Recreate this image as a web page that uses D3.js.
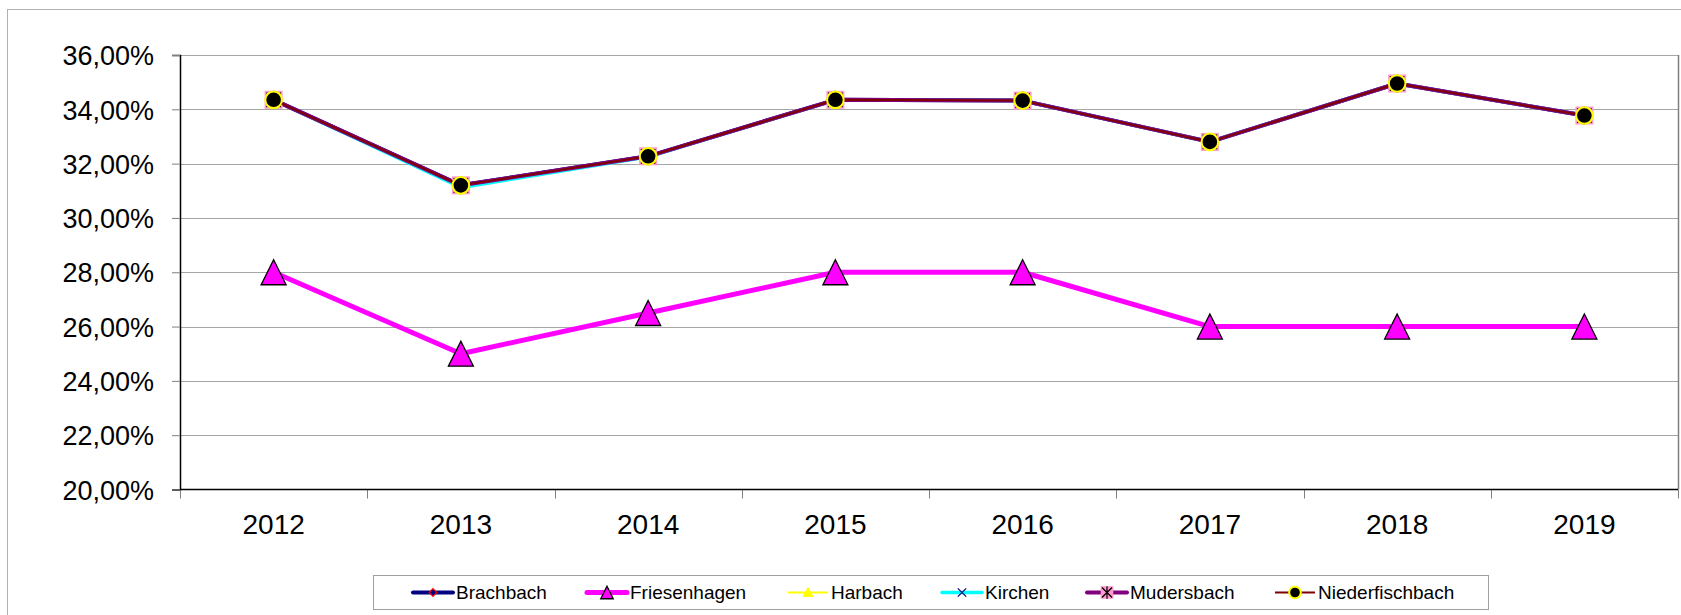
<!DOCTYPE html>
<html>
<head>
<meta charset="utf-8">
<script src="https://cdn.jsdelivr.net/npm/d3@7"></script>
<style>
  html, body { margin: 0; padding: 0; background: #fff; }
  svg { display: block; font-family: "Liberation Sans", Arial, sans-serif; }
  .grid line { stroke: #a6a6a6; shape-rendering: crispEdges; }
  .axis text { fill: #000; font-size: 27px; }
  .axis.xa text { font-size: 28px; }
  .legend text { font-size: 19px; fill: #000; }
</style>
</head>
<body>
<div id="chart"></div>
<script>
// Jahre und Werte (Prozent)
const years = ['2012', '2013', '2014', '2015', '2016', '2017', '2018', '2019'];
const brachbach       = [34.35, 31.20, 32.27, 34.35, 34.32, 32.80, 34.95, 33.77];
const friesenhagen    = [28.00, 25.00, 26.50, 28.00, 28.00, 26.00, 26.00, 26.00];
const harbach         = [34.35, 31.20, 32.27, 34.35, 34.32, 32.80, 34.95, 33.77];
const kirchen         = [34.35, 31.12, 32.25, 34.35, 34.32, 32.80, 34.95, 33.77];
const mudersbach      = [34.35, 31.20, 32.27, 34.35, 34.32, 32.80, 34.95, 33.77];
const niederfischbach = [34.35, 31.20, 32.27, 34.35, 34.32, 32.80, 34.95, 33.77];
const yTicks = [20, 22, 24, 26, 28, 30, 32, 34, 36];

const SERIES = [
  { name: 'Brachbach',       values: brachbach,       color: '#000080', width: 4, marker: 'diamond' },
  { name: 'Friesenhagen',    values: friesenhagen,    color: '#ff00ff', width: 5, marker: 'bigtri' },
  { name: 'Harbach',         values: harbach,         color: '#ffff00', width: 2, marker: 'tri' },
  { name: 'Kirchen',         values: kirchen,         color: '#00ffff', width: 3.5, marker: 'x' },
  { name: 'Mudersbach',      values: mudersbach,      color: '#800080', width: 4, marker: 'star' },
  { name: 'Niederfischbach', values: niederfischbach, color: '#800000', width: 2, marker: 'circle' },
];
// Legendenpositionen (Linienanfang)
const LEGEND_X = [413, 587, 788, 942, 1087, 1275];

const W = 1681, H = 615;
const PLOT = { left: 180, right: 1678, top: 55, bottom: 489.5 };

const de = d3.formatLocale({ decimal: ',', thousands: '.', grouping: [3], currency: ['', '€'] });
const fmt = v => de.format('.2f')(v) + '%';

const svg = d3.select('#chart').append('svg').attr('width', W).attr('height', H);

// Rahmen des Diagramms
svg.append('rect')
  .attr('x', 7.5).attr('y', 9.5).attr('width', W + 20).attr('height', H + 20)
  .attr('fill', '#fff').attr('stroke', '#b0b0b0');

const x = d3.scaleBand().domain(years).range([PLOT.left, PLOT.right]).padding(0);
const y = d3.scaleLinear().domain([20, 36]).range([PLOT.bottom, PLOT.top]);

// Gitternetz
svg.append('g').attr('class', 'grid')
  .selectAll('line').data(yTicks.slice(1)).join('line')
  .attr('x1', PLOT.left).attr('x2', PLOT.right)
  .attr('y1', d => Math.round(y(d)) + 0.5).attr('y2', d => Math.round(y(d)) + 0.5);

// rechter Rand
svg.append('line')
  .attr('x1', PLOT.right + 0.5).attr('x2', PLOT.right + 0.5)
  .attr('y1', PLOT.top).attr('y2', PLOT.bottom)
  .attr('stroke', '#808080').attr('stroke-width', 1.5);

// Y-Achse
const yAxis = svg.append('g').attr('class', 'axis')
  .attr('transform', `translate(${PLOT.left},0)`)
  .call(d3.axisLeft(y).tickValues(yTicks).tickFormat(fmt).tickSize(8).tickPadding(18));
yAxis.select('.domain').attr('stroke', '#000').attr('stroke-width', 1.5);
yAxis.selectAll('.tick line').attr('stroke', '#808080');
yAxis.selectAll('text').attr('dy', '0.36em');

// X-Achse (Beschriftung in der Mitte, Striche an den Grenzen)
const xAxis = svg.append('g').attr('class', 'axis xa')
  .attr('transform', `translate(0,${PLOT.bottom})`)
  .call(d3.axisBottom(x).tickSize(0).tickPadding(25));
xAxis.select('.domain').remove();
xAxis.selectAll('text').attr('dy', '0.71em');

const bounds = years.map(d => x(d)).concat([PLOT.right]);
svg.append('g').selectAll('line').data(bounds).join('line')
  .attr('x1', d => Math.round(d) + 0.5).attr('x2', d => Math.round(d) + 0.5)
  .attr('y1', PLOT.bottom).attr('y2', PLOT.bottom + 9)
  .attr('stroke', '#808080');
svg.append('line')
  .attr('x1', PLOT.left).attr('x2', PLOT.right)
  .attr('y1', PLOT.bottom).attr('y2', PLOT.bottom)
  .attr('stroke', '#000').attr('stroke-width', 1.5);

// Marker
function drawMarker(g, type, s) {
  // s = Groessenfaktor (1 im Diagramm)
  if (type === 'diamond') {
    const r = 5.5 * s;
    g.append('path').attr('d', `M0,${-r}L${r},0L0,${r}L${-r},0Z`)
      .attr('fill', '#000080').attr('stroke', '#ff0000').attr('stroke-width', 1.2);
  } else if (type === 'bigtri') {
    const h = 25 * s, w = 25 * s;
    g.append('path').attr('d', `M0,${-h * 0.5}L${w / 2},${h * 0.5}L${-w / 2},${h * 0.5}Z`)
      .attr('fill', '#ff00ff').attr('stroke', '#000').attr('stroke-width', 1.3);
  } else if (type === 'tri') {
    const r = 7 * s;
    g.append('path').attr('d', `M0,${-r}L${r},${r * 0.8}L${-r},${r * 0.8}Z`)
      .attr('fill', '#ffff00').attr('stroke', '#ffff00');
  } else if (type === 'x') {
    const r = 6 * s;
    g.append('path').attr('d', `M${-r},${-r}L${r},${r}M${r},${-r}L${-r},${r}`)
      .attr('stroke', '#000080').attr('stroke-width', 1.2);
  } else if (type === 'star') {
    const r = 9 * s;
    g.append('rect').attr('x', -r).attr('y', -r).attr('width', 2 * r).attr('height', 2 * r)
      .attr('fill', '#ff99cc');
    const q = r * 0.8;
    g.append('path').attr('d', `M${-q},${-q}L${q},${q}M${q},${-q}L${-q},${q}M0,${-r}L0,${r}`)
      .attr('stroke', '#000').attr('stroke-width', 1.2);
  } else if (type === 'circle') {
    g.append('circle').attr('r', 8.3 * s)
      .attr('fill', '#000').attr('stroke', '#ffff00').attr('stroke-width', 2);
  }
}

const line = d3.line()
  .x((d, i) => x(years[i]) + x.bandwidth() / 2)
  .y(d => y(d));

SERIES.forEach(s => {
  const g = svg.append('g').attr('class', 'series');
  g.append('path').datum(s.values)
    .attr('d', line)
    .attr('fill', 'none')
    .attr('stroke', s.color)
    .attr('stroke-width', s.width)
    .attr('stroke-linejoin', 'round');
  s.values.forEach((v, i) => {
    const m = g.append('g')
      .attr('transform', `translate(${x(years[i]) + x.bandwidth() / 2},${y(v)})`);
    drawMarker(m, s.marker, 1);
  });
});

// Legende
const legend = svg.append('g').attr('class', 'legend');
legend.append('rect')
  .attr('x', 373.5).attr('y', 575.5).attr('width', 1115).attr('height', 34)
  .attr('fill', '#fff').attr('stroke', '#a0a0a0');
SERIES.forEach((s, i) => {
  const lx = LEGEND_X[i], ly = 592.5;
  const g = legend.append('g');
  g.append('line')
    .attr('x1', lx).attr('x2', lx + 40).attr('y1', ly).attr('y2', ly)
    .attr('stroke', s.color).attr('stroke-width', s.width)
    .attr('stroke-linecap', s.width > 3 ? 'round' : 'butt');
  const m = g.append('g').attr('transform', `translate(${lx + 20},${ly})`);
  drawMarker(m, s.marker, s.marker === 'bigtri' ? 0.5 : 0.7);
  g.append('text')
    .attr('x', lx + 43).attr('y', ly).attr('dy', '0.36em')
    .text(s.name);
});
</script>
</body>
</html>
